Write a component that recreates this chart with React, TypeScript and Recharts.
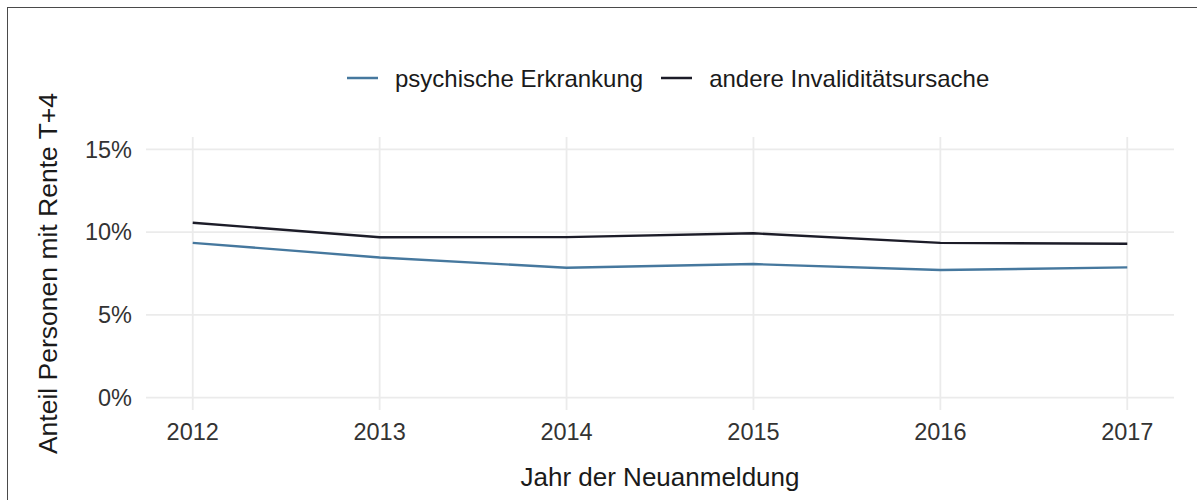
import React from "react";
import {
  LineChart,
  Line,
  XAxis,
  YAxis,
  CartesianGrid,
  Legend,
} from "recharts";

const years = [2012, 2013, 2014, 2015, 2016, 2017];
const psychisch = [9.35, 8.47, 7.85, 8.07, 7.71, 7.87];
const andere = [10.57, 9.69, 9.7, 9.93, 9.35, 9.3];
const yTicks = [0, 5, 10, 15];
const seriesNames = ["psychische Erkrankung", "andere Invaliditätsursache"];
const seriesColors = ["#46789e", "#1c1c28"];

const data = years.map((y, i) => ({ year: y, psy: psychisch[i], other: andere[i] }));

const FONT = "'Liberation Sans', Arial, sans-serif";

const renderLegend = (props: any) => {
  const payload = [...(props.payload || [])].sort(
    (a: any, b: any) => seriesNames.indexOf(a.value) - seriesNames.indexOf(b.value)
  );
  return (
    <div style={{ display: "flex", alignItems: "center", fontFamily: FONT, fontSize: 24, color: "#1a1a1a", whiteSpace: "nowrap" }}>
      {payload.map((p: any, i: number) => (
        <div key={i} style={{ display: "flex", alignItems: "center", marginRight: 18, height: 30 }}>
          <svg width={31} height={30} style={{ marginRight: 17 }}>
            <line x1={0} x2={31} y1={15} y2={15} stroke={p.color} strokeWidth={2.5} />
          </svg>
          <span style={{ position: "relative", top: 1 }}>{p.value}</span>
        </div>
      ))}
    </div>
  );
};

const YTitle = (props: any) => {
  const vb = props.viewBox || {};
  const cx = (vb.x || 0) + 48;
  const cy = vb.y + vb.height / 2;
  return (
    <text x={cx} y={cy} transform={`rotate(-90, ${cx}, ${cy})`} textAnchor="middle" dominantBaseline="central" fontFamily={FONT} fontSize={26.5} fill="#1a1a1a">
      Anteil Personen mit Rente T+4
    </text>
  );
};

const XTitle = (props: any) => {
  const vb = props.viewBox || {};
  return (
    <text x={vb.x + vb.width / 2} y={vb.y + 76} textAnchor="middle" fontFamily={FONT} fontSize={26} fill="#1a1a1a">
      Jahr der Neuanmeldung
    </text>
  );
};

export default function App() {
  return (
    <div style={{ position: "absolute", left: 0, top: 0, width: 1197, height: 500, overflow: "hidden", background: "#fff" }}>
      <div style={{ position: "absolute", left: 7, top: 7, width: 1300, height: 600, border: "1px solid #4a4a4a", boxSizing: "border-box" }} />
      <div style={{ position: "absolute", left: 0, top: 0 }}>
        <LineChart width={1197} height={500} data={data} margin={{ top: 137, right: 23, bottom: 0, left: 0 }}>
          <CartesianGrid stroke="#ebebeb" strokeWidth={1.8} syncWithTicks />
          <XAxis
            dataKey="year"
            type="number"
            domain={[2011.75, 2017.25]}
            ticks={years}
            allowDataOverflow
            axisLine={false}
            tickLine={false}
            tickSize={6}
            tickMargin={7}
            height={90}
            tick={{ fontFamily: FONT, fontSize: 23.5, fill: "#333" }}
            label={<XTitle />}
          />
          <YAxis
            type="number"
            domain={[-0.75, 15.75]}
            ticks={yTicks}
            allowDataOverflow
            axisLine={false}
            tickLine={false}
            tickSize={6}
            tickMargin={8}
            width={146}
            tickFormatter={(v: number) => `${v}%`}
            tick={{ fontFamily: FONT, fontSize: 23.5, fill: "#333" }}
            label={<YTitle />}
          />
          <Legend
            layout="vertical"
            verticalAlign="middle"
            align="center"
            content={renderLegend}
            wrapperStyle={{ position: "absolute", left: 347, top: 63, width: "auto", height: "auto" }}
          />
          <Line type="linear" dataKey="psy" name={seriesNames[0]} stroke={seriesColors[0]} strokeWidth={2.4} dot={false} isAnimationActive={false} />
          <Line type="linear" dataKey="other" name={seriesNames[1]} stroke={seriesColors[1]} strokeWidth={2.4} dot={false} isAnimationActive={false} />
        </LineChart>
      </div>
    </div>
  );
}
